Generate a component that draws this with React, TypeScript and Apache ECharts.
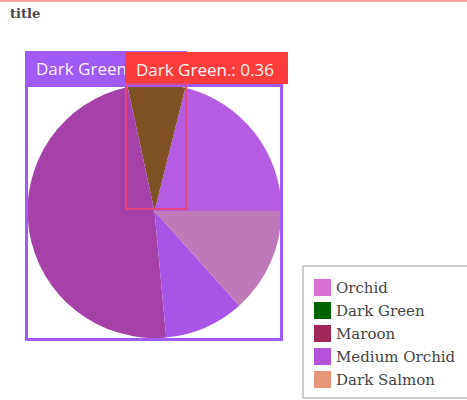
import React, { useEffect, useRef } from "react";
import * as echarts from "echarts";

const categories = ["Orchid", "Dark Green", "Maroon", "Medium Orchid", "Dark Salmon"];
const values = [1.04, 0.36, 2.37, 0.5, 0.66];
const sliceColors = ["#B65CE2", "#7F5021", "#A641AA", "#A854E4", "#C178B9"];
const legendColors = ["#DA70D6", "#006400", "#A02859", "#B652DA", "#E8967A"];
const annotationName = "Dark Green.";
const annotationValue = "0.36";

export default function App() {
  const ref = useRef<HTMLDivElement>(null);
  useEffect(() => {
    if (!ref.current) return;
    const chart = echarts.init(ref.current, undefined, { renderer: "svg" });
    chart.setOption({
      animation: false,
      backgroundColor: "#ffffff",
      title: {
        text: "title",
        left: 10,
        top: 7,
        padding: 0,
        textStyle: { fontFamily: "DejaVu Serif", fontSize: 13, fontWeight: "bold", color: "#444" },
      },
      legend: {
        orient: "vertical",
        left: 303,
        top: 266,
        padding: [13, 20, 10, 11],
        borderColor: "#999",
        borderWidth: 1,
        itemWidth: 17,
        itemHeight: 17,
        itemGap: 6,
        icon: "rect",
        textStyle: { fontFamily: "DejaVu Serif", fontSize: 15, color: "#444", lineHeight: 17 },
        data: categories.map((c, i) => ({ name: c, itemStyle: { color: legendColors[i] } })),
      },
      series: [
        {
          type: "pie",
          center: [154.5, 211],
          radius: 127,
          startAngle: 0,
          clockwise: false,
          label: { show: false },
          labelLine: { show: false },
          emphasis: { disabled: true },
          data: categories.map((c, i) => ({
            name: c,
            value: values[i],
            itemStyle: { color: sliceColors[i] },
          })),
        },
      ],
      graphic: [
        {
          type: "rect",
          z: 100,
          shape: { x: 0, y: 0, width: 467, height: 2 },
          style: { fill: "#F6A3A3" },
        },
        {
          type: "rect",
          z: 100,
          shape: { x: 25, y: 51, width: 162, height: 33 },
          style: { fill: "#A05AF5" },
        },
        {
          type: "text",
          z: 101,
          x: 36,
          y: 68,
          style: {
            text: annotationName,
            fill: "#F7F0FF",
            fontFamily: "Open Sans",
            fontSize: 17,
            verticalAlign: "middle",
          },
        },
        {
          type: "rect",
          z: 100,
          shape: { x: 26.5, y: 85.5, width: 255, height: 254 },
          style: { fill: "none", stroke: "#A05AF5", lineWidth: 3 },
        },
        {
          type: "rect",
          z: 102,
          shape: { x: 125, y: 52, width: 163, height: 32 },
          style: { fill: "#FF3C3C" },
        },
        {
          type: "text",
          z: 103,
          x: 136,
          y: 69,
          style: {
            text: annotationName + ": " + annotationValue,
            fill: "#FFF2F2",
            fontFamily: "Open Sans",
            fontSize: 17,
            verticalAlign: "middle",
          },
        },
        {
          type: "rect",
          z: 102,
          shape: { x: 126, y: 84, width: 60, height: 125 },
          style: { fill: "none", stroke: "#E5467F", lineWidth: 2 },
        },
      ],
    });
    return () => chart.dispose();
  }, []);
  return (
    <div
      ref={ref}
      style={{ position: "fixed", left: 0, top: 0, width: 467, height: 400 }}
    />
  );
}
